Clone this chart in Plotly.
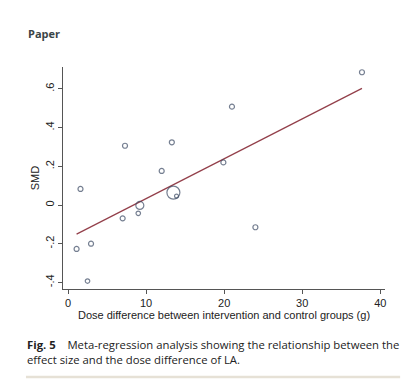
import plotly.graph_objects as go

dose_diff = [1.1, 1.6, 2.95, 2.5, 7.0, 7.3, 9.0, 9.2, 12.0, 13.3, 13.5, 13.9, 19.9, 21.0, 24.0, 37.65]
smd = [-0.227, 0.083, -0.2, -0.393, -0.069, 0.306, -0.043, -0.002, 0.176, 0.324, 0.064, 0.046, 0.22, 0.508, -0.115, 0.686]
weight = [5, 5, 5, 4.5, 5, 5, 4.5, 8, 5, 5, 13, 4, 5, 5, 5, 5]

fit_x = [1.1, 37.65]
fit_intercept = -0.173
fit_slope = 0.0206
fit_y = [fit_intercept + fit_slope * v for v in fit_x]

y_tickvals = [-0.4, -0.2, 0, 0.2, 0.4, 0.6]
y_ticktext = ["-.4", "-.2", "0", ".2", ".4", ".6"]
x_tickvals = [0, 10, 20, 30, 40]

fig = go.Figure()
fig.add_trace(go.Scatter(
    x=fit_x, y=fit_y, mode="lines",
    line=dict(color="#933F4A", width=1.2), hoverinfo="skip"))
fig.add_trace(go.Scatter(
    x=dose_diff, y=smd, mode="markers",
    marker=dict(size=weight, symbol="circle-open", color="#3A4863",
                line=dict(width=1.2, color="#3A4863"))))

axis_font = dict(family="Liberation Sans, Arial, sans-serif", size=11, color="#222")
fig.update_layout(
    width=409, height=379,
    margin=dict(l=55, r=32, t=59, b=98, autoexpand=False),
    paper_bgcolor="white", plot_bgcolor="white",
    showlegend=False,
    xaxis=dict(range=[-0.64, 40.6], tickvals=x_tickvals, ticks="outside", ticklen=4,
               tickcolor="#555", showline=True, linecolor="#555", linewidth=1,
               showgrid=False, zeroline=False, tickfont=axis_font, automargin=False,
               title=dict(text="Dose difference between intervention and control groups (g)",
                          font=axis_font, standoff=1)),
    yaxis=dict(range=[-0.434, 0.713], tickvals=y_tickvals, ticktext=y_ticktext,
               ticks="outside", ticklen=4, tickangle=-90, automargin=False,
               tickcolor="#555", showline=True, linecolor="#555", linewidth=1,
               showgrid=False, zeroline=False, tickfont=axis_font,
               title=dict(text="SMD", font=axis_font, standoff=1)),
    annotations=[
        dict(text="<b>Paper</b>", xref="paper", yref="paper", x=-0.0, y=1.0,
             xanchor="left", yanchor="bottom", showarrow=False,
             xshift=-37, yshift=24,
             font=dict(family="Open Sans, sans-serif", size=11, color="#3a4446")),
        dict(text="<b>Fig. 5</b>    Meta-regression analysis showing the relationship between the<br>effect size and the dose difference of LA.",
             xref="paper", yref="paper", x=0, y=0, xanchor="left", yanchor="top",
             align="left", showarrow=False, xshift=-38, yshift=-46,
             font=dict(family="Open Sans, sans-serif", size=11.3, color="#222")),
    ],
    shapes=[dict(type="line", xref="paper", yref="paper", x0=-0.115, x1=1.047,
                 y0=-0.396, y1=-0.396,
                 line=dict(color="#e6e1d6", width=2.5))],
)
fig.write_html("out.html")
